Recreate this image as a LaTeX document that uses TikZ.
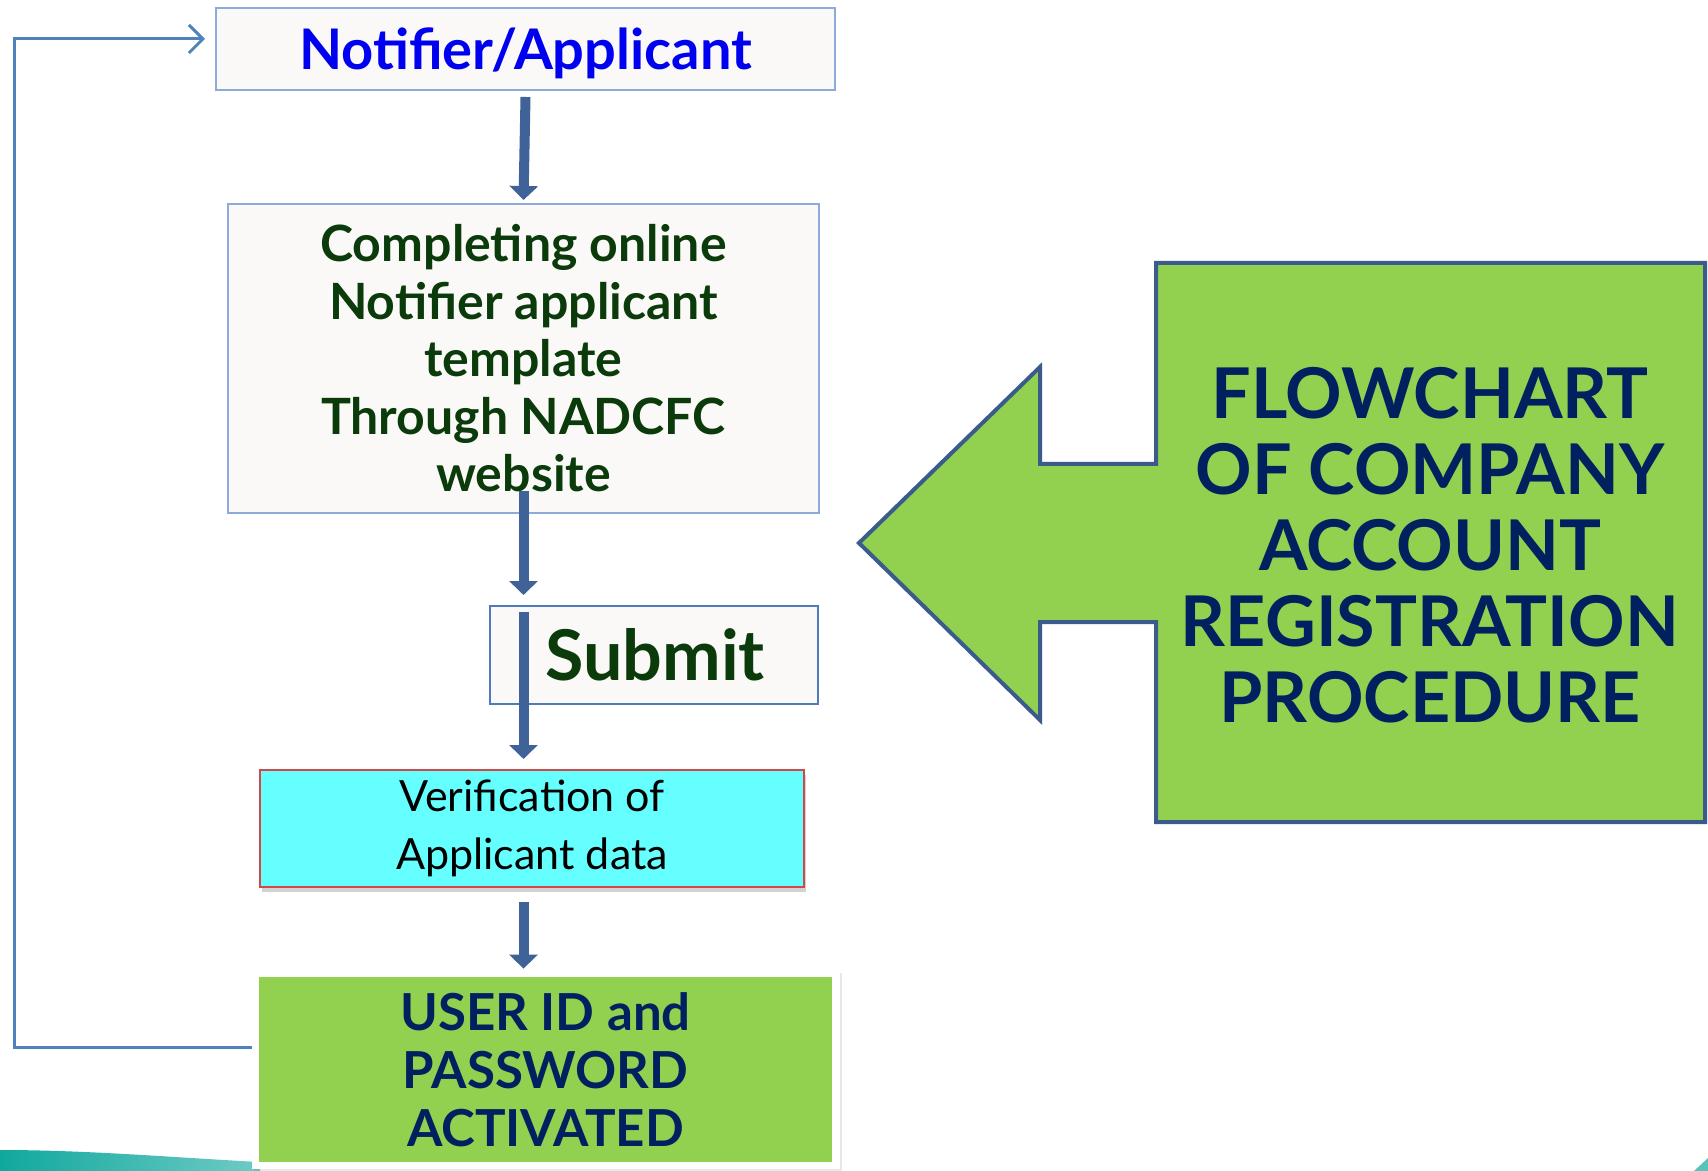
\documentclass[tikz,border=0pt]{standalone}
\usepackage{fontspec}
\setmainfont{Lato}
\usetikzlibrary{arrows.meta,shadows,calc}
\definecolor{boxedge}{HTML}{8EAADB}
\definecolor{boxfill}{HTML}{FAF9F7}
\definecolor{subedge}{HTML}{4F7BBD}
\definecolor{arrowblue}{HTML}{3F6398}
\definecolor{fbblue}{HTML}{4F81BD}
\definecolor{notiftext}{HTML}{0000F0}
\definecolor{darkgreen}{HTML}{0B3A0B}
\definecolor{navy}{HTML}{002060}
\definecolor{lgreen}{HTML}{92D050}
\definecolor{cyanfill}{HTML}{66FFFF}
\definecolor{rededge}{HTML}{D04848}
\definecolor{shapeedge}{HTML}{3B5B8C}
\definecolor{teal}{HTML}{10A89E}
\begin{document}
\begin{tikzpicture}[x=0.5pt,y=-0.5pt,
  lightbox/.style={draw=boxedge, line width=1pt, fill=boxfill, inner sep=0pt, align=center},
  bigarrow/.style={draw=arrowblue, line width=5pt, -{Triangle[width=14pt,length=7pt]}},
  fb/.style={draw=fbblue, line width=1.5pt, -{Straight Barb[length=7pt,width=14pt]}}]
\useasboundingbox (0,0) rectangle (1708,1171);
\fill[white] (0,0) rectangle (1708,1171);
% slide background decoration
\shade[left color=teal, right color=teal!60!white] (0,1150) .. controls (90,1150) and (180,1158) .. (260,1162) -- (260,1171) -- (0,1171) -- cycle;
\fill[teal!70!white] (1708,1158) -- (1708,1171) -- (1694,1171) -- cycle;

% boxes
\node[lightbox, minimum width=309.5pt, minimum height=41pt,
  text height=22pt, text depth=1pt,
  font=\fontsize{28}{32}\selectfont\bfseries, text=notiftext]
  (notif) at (525.5,49) {Notifier/Applicant};
\node[lightbox, minimum width=295.5pt, minimum height=154.5pt,
  font=\fontsize{25}{28.75}\selectfont\bfseries, text=darkgreen]
  (comp) at (523.5,358.5) {Completing online\\Notifier applicant\\template\\Through NADCFC\\website};
\node[lightbox, draw=subedge, minimum width=164pt, minimum height=49pt,
  font=\fontsize{35}{40}\selectfont\bfseries, text=darkgreen]
  (submit) at (654,655) {\hspace*{1pt}Submit};
\node[lightbox, draw=rededge, fill=cyanfill, minimum width=272pt, minimum height=58.5pt,
  drop shadow={shadow xshift=1pt, shadow yshift=-2.5pt, opacity=.35},
  font=\fontsize{21.5}{29}\selectfont, text=black]
  (verif) at (532,828.5) {Verification of\\Applicant data};
\node[fill=white, draw=none, minimum width=294pt, minimum height=99pt, inner sep=0pt,
  drop shadow={shadow xshift=0.8pt, shadow yshift=-0.8pt, opacity=.18}]
  (userout) at (546,1070) {};
\node[fill=lgreen, draw=none, minimum width=286.5pt, minimum height=92.5pt, inner sep=0pt, align=center,
  font=\fontsize{25.5}{29}\selectfont\bfseries, text=navy]
  (user) at (545.5,1069.5) {USER ID and\\PASSWORD\\ACTIVATED};

% flow arrows
\draw[bigarrow] ([yshift=-3pt]notif.south) -- ([yshift=1.5pt]comp.north);
\draw[bigarrow] ([yshift=11.5pt]comp.south) -- ([yshift=5pt]comp.south |- submit.north);
\draw[bigarrow] ([yshift=-3.5pt]comp.south |- submit.north) -- ([yshift=5pt]comp.south |- verif.north);
\draw[bigarrow] ([yshift=-7pt]comp.south |- verif.south) -- ([yshift=1pt]comp.south |- userout.north);

% feedback loop
\draw[fb] ([yshift=11.5pt]userout.west) -- ++(-237,0) |- ([xshift=-5pt,yshift=5pt]notif.west);

% big arrow title shape
\draw[draw=shapeedge, line width=2pt, fill=lgreen]
  (1156,263) -- (1705,263) -- (1705,822) -- (1156,822) -- (1156,622) -- (1040,622)
  -- (1040,720) -- (859,543) -- (1040,367) -- (1040,464) -- (1156,464) -- cycle;
\node[align=center, font=\fontsize{35}{38}\selectfont\bfseries, text=navy]
  (title) at (1430,545) {FLOWCHART\\OF COMPANY\\ACCOUNT\\REGISTRATION\\PROCEDURE};
\end{tikzpicture}
\end{document}
